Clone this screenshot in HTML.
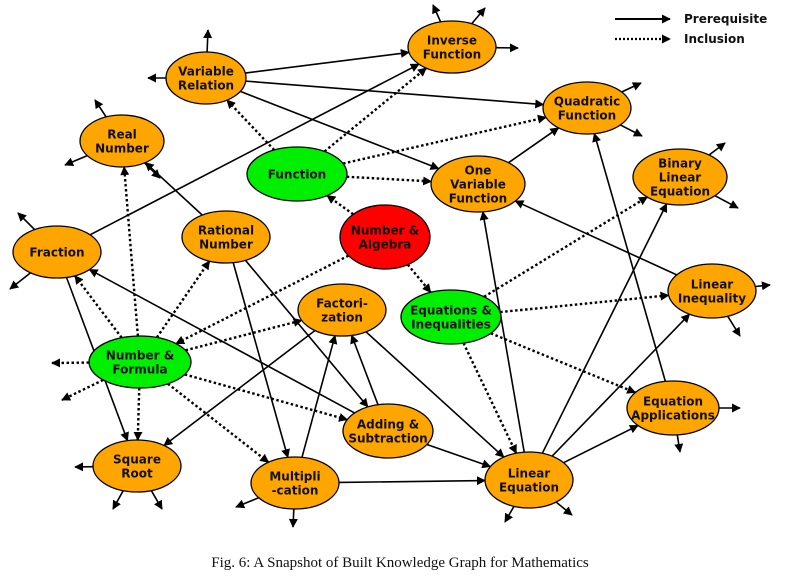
<!DOCTYPE html>
<html><head><meta charset="utf-8"><style>
body{margin:0;background:#fff;width:800px;height:580px;overflow:hidden}
svg text{font-family:"DejaVu Sans",sans-serif;font-weight:bold;font-size:12px;fill:#111}
</style></head><body>
<svg id="s" width="800" height="580" viewBox="0 0 800 580">
<defs><marker id="a" viewBox="0 0 10 10" refX="9" refY="5" markerWidth="9" markerHeight="9" markerUnits="userSpaceOnUse" orient="auto"><path d="M0,0L10,5L0,10z" fill="#000"/></marker></defs>
<g id="e"></g><g id="n"></g>
<line x1="615" y1="19" x2="670" y2="19" stroke="#000" stroke-width="2" marker-end="url(#a)"/>
<line x1="615" y1="39" x2="670" y2="39" stroke="#000" stroke-width="2.2" stroke-dasharray="2,2" marker-end="url(#a)"/>
<text x="684" y="23">Prerequisite</text><text x="684" y="43">Inclusion</text>
<text x="400" y="567" text-anchor="middle" style="font-family:'Liberation Serif',serif;font-weight:normal;font-size:15px">Fig. 6: A Snapshot of Built Knowledge Graph for Mathematics</text>
</svg>
<script>
var N={
IF:[452,47,44,26,'#FFA500',['Inverse','Function']],
VR:[206,78,40,26,'#FFA500',['Variable','Relation']],
QF:[587,108,44,26,'#FFA500',['Quadratic','Function']],
RN:[122,141,42,26,'#FFA500',['Real','Number']],
FN:[297,174,50,27,'#00EE00',['Function']],
OV:[478,184,47,28,'#FFA500',['One','Variable','Function']],
BL:[680,177,47,28,'#FFA500',['Binary','Linear','Equation']],
FR:[57,252,44,26,'#FFA500',['Fraction']],
RA:[226,237,44,26,'#FFA500',['Rational','Number']],
NA:[385,237,45,32,'#FF0000',['Number &','Algebra']],
LI:[712,291,44,27,'#FFA500',['Linear','Inequality']],
FA:[342,310,44,26,'#FFA500',['Factori-','zation']],
EI:[451,317,50,27,'#00EE00',['Equations &','Inequalities']],
NF:[140,362,51,26,'#00EE00',['Number &','Formula']],
EA:[673,408,46,27,'#FFA500',['Equation','Applications']],
AS:[388,431,45,27,'#FFA500',['Adding &','Subtraction']],
SR:[137,466,44,26,'#FFA500',['Square','Root']],
MU:[295,483,44,26,'#FFA500',['Multipli','-cation']],
LE:[529,480,44,28,'#FFA500',['Linear','Equation']]};
var S=[['VR','IF'],['VR','QF'],['VR','OV'],['FR','IF'],['RA','RN'],['OV','QF'],['LI','OV'],['LE','OV'],['EA','QF'],['LE','BL'],['LE','LI'],['LE','EA'],['FR','SR'],['RA','MU'],['RA','AS'],['FA','SR'],['FA','LE'],['MU','FA'],['AS','FA'],['AS','FR'],['AS','LE'],['MU','LE']];
var D=[['FN','VR'],['FN','IF'],['FN','QF'],['FN','OV'],['NA','FN'],['NA','EI'],['NA','NF'],['NF','RN'],['NF','FR'],['NF','RA'],['NF','FA'],['NF','SR'],['NF','AS'],['NF','MU'],['EI','BL'],['EI','LI'],['EI','EA'],['EI','LE']];
var T=[['IF',433,5],['IF',485,8],['IF',518,48],['VR',208,30],['VR',148,78],['RN',95,100],['RN',65,165],['RN',160,178],['QF',641,83],['QF',642,136],['BL',725,143],['BL',738,208],['FR',18,213],['FR',10,289],['LI',770,285],['LI',740,336],['EA',740,408],['EA',680,452],['SR',75,467],['SR',113,509],['SR',162,509],['MU',236,507],['MU',293,527],['LE',505,522],['LE',572,515]];
var TD=[['NF',52,363],['NF',62,400]];
function bp(n,dx,dy){var t=1/Math.sqrt(dx*dx/(n[2]*n[2])+dy*dy/(n[3]*n[3]));return [n[0]+dx*t,n[1]+dy*t];}
var h='';
function ln(x1,y1,x2,y2,d){h+='<line x1="'+x1+'" y1="'+y1+'" x2="'+x2+'" y2="'+y2+'" stroke="#000" stroke-width="'+(d?2.4:1.6)+'"'+(d?' stroke-dasharray="2.5,2.5"':'')+' marker-end="url(#a)"/>';}
function ed(a,b,d){var A=N[a],B=N[b],dx=B[0]-A[0],dy=B[1]-A[1];var p=bp(A,dx,dy),q=bp(B,-dx,-dy);ln(p[0],p[1],q[0],q[1],d);}
S.forEach(function(e){ed(e[0],e[1],0)});D.forEach(function(e){ed(e[0],e[1],1)});
function st(t,d){var A=N[t[0]];var p=bp(A,t[1]-A[0],t[2]-A[1]);ln(p[0],p[1],t[1],t[2],d);}
T.forEach(function(t){st(t,0)});TD.forEach(function(t){st(t,1)});
document.getElementById('e').innerHTML=h;
var g='';for(var k in N){var n=N[k];g+='<ellipse cx="'+n[0]+'" cy="'+n[1]+'" rx="'+n[2]+'" ry="'+n[3]+'" fill="'+n[4]+'" stroke="#000" stroke-width="1.3"/>';var L=n[5],y0=n[1]-(L.length-1)*7+4.5;L.forEach(function(s,i){g+='<text x="'+n[0]+'" y="'+(y0+i*14)+'" text-anchor="middle">'+s.replace('&','&amp;')+'</text>';});}
document.getElementById('n').innerHTML=g;
</script>
</body></html>
